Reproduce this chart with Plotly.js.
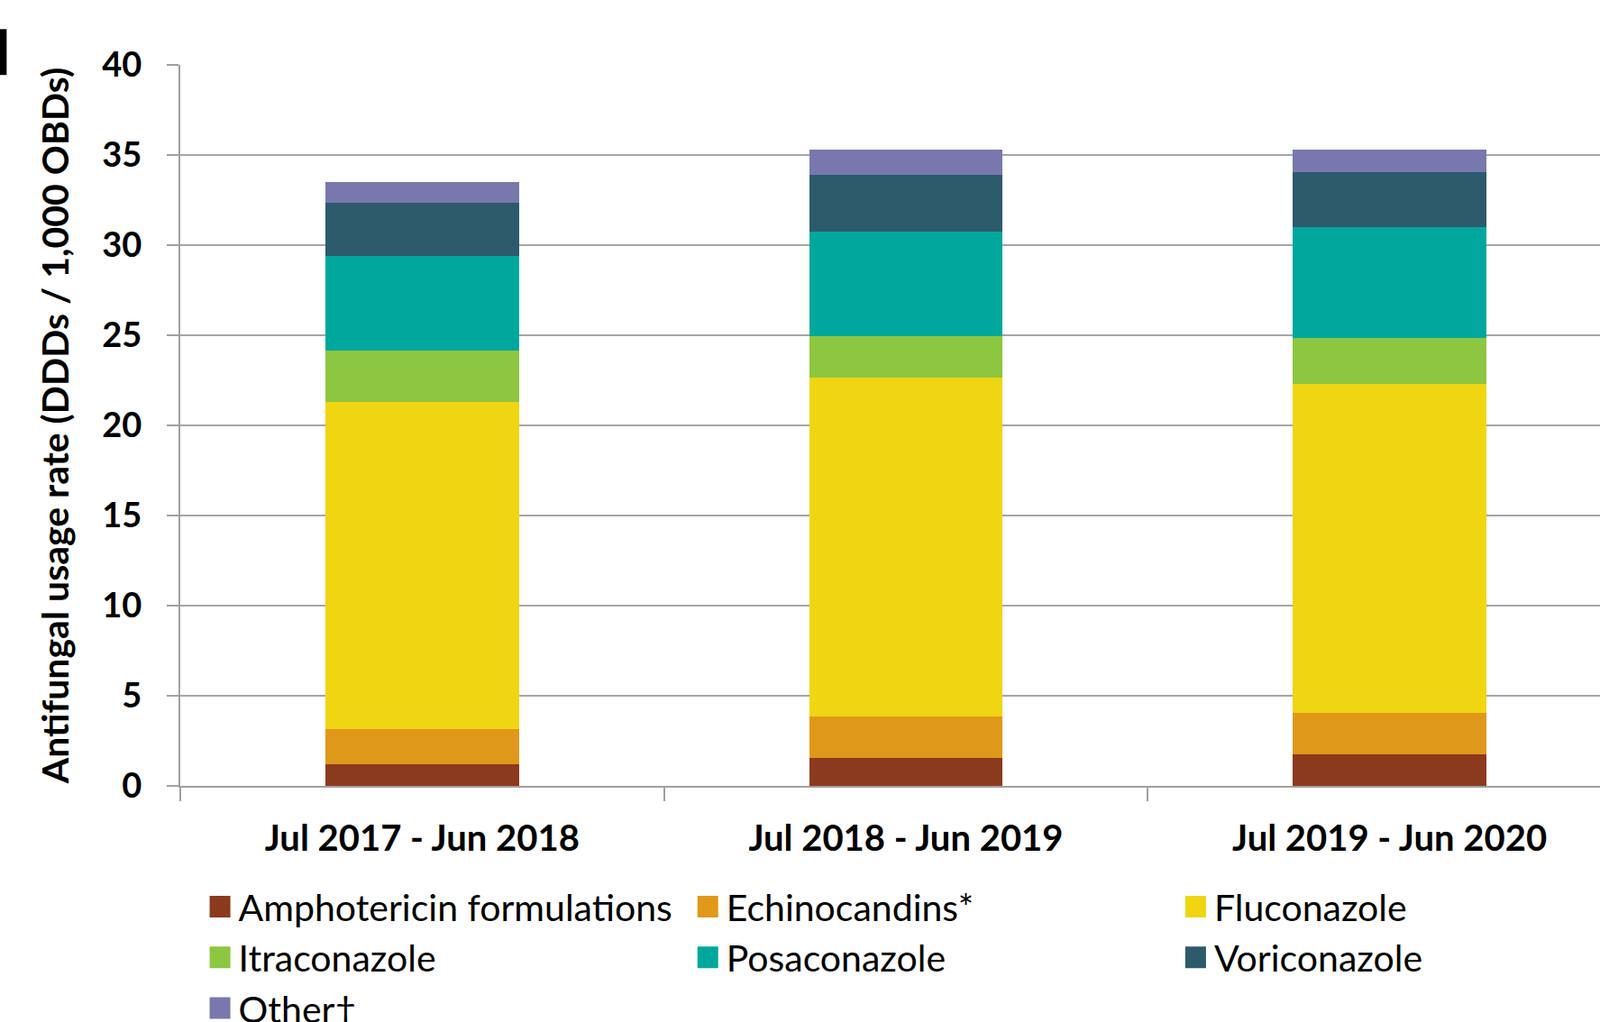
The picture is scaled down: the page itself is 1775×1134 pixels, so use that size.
<!DOCTYPE html>
<html>
<head>
<meta charset="utf-8">
<script src="https://cdn.plot.ly/plotly-3.0.1.min.js"></script>
<style>
  html, body { margin: 0; padding: 0; background: #fff; }
  #chart { width: 1775px; height: 1134px; }
</style>
</head>
<body>
<div id="chart"></div>
<script>
// ---- data ----
const periods = ["Jul 2017 - Jun 2018", "Jul 2018 - Jun 2019", "Jul 2019 - Jun 2020"];
const amphotericin = [1.20, 1.57, 1.73];
const echinocandins = [1.95, 2.30, 2.32];
const fluconazole = [18.15, 18.76, 18.23];
const itraconazole = [2.85, 2.33, 2.57];
const posaconazole = [5.25, 5.79, 6.15];
const voriconazole = [2.95, 3.15, 3.05];
const other = [1.15, 1.40, 1.25];
const seriesNames = ["Amphotericin formulations", "Echinocandins*", "Fluconazole",
                     "Itraconazole", "Posaconazole", "Voriconazole", "Other\u2020"];
const yTitle = "Antifungal usage rate (DDDs / 1,000 OBDs)";

const seriesValues = [amphotericin, echinocandins, fluconazole, itraconazole, posaconazole, voriconazole, other];
const seriesColors = ["#8B3A1E", "#E0981A", "#F0D512", "#8DC641", "#00A79D", "#2D5A6B", "#7878AE"];
const legendFor = ["legend", "legend2", "legend3", "legend", "legend2", "legend3", "legend"];

const traces = seriesValues.map((vals, i) => ({
  type: "bar",
  name: seriesNames[i],
  x: periods,
  y: vals,
  marker: { color: seriesColors[i], line: { width: 0 } },
  legend: legendFor[i],
  hoverinfo: "name+y"
}));

const font = "Lato, 'Open Sans', sans-serif";
const legendBase = {
  orientation: "v",
  traceorder: "normal",
  xanchor: "left",
  yanchor: "top",
  y: -0.126,
  bgcolor: "rgba(0,0,0,0)",
  borderwidth: 0,
  font: { family: font, size: 41, color: "#000" },
  itemclick: false,
  itemdoubleclick: false
};

const layout = {
  width: 1775,
  height: 1134,
  margin: { l: 200, r: 0, t: 72, b: 262, autoexpand: false },
  paper_bgcolor: "#fff",
  plot_bgcolor: "#fff",
  barmode: "stack",
  bargap: 0.6,
  showlegend: true,
  legend: Object.assign({}, legendBase, { x: 0.0156 }),
  legend2: Object.assign({}, legendBase, { x: 0.3592 }),
  legend3: Object.assign({}, legendBase, { x: 0.7028 }),
  xaxis: {
    type: "category",
    range: [-0.5, 2.435],
    showline: true,
    linecolor: "#A0A0A0",
    linewidth: 2,
    ticks: "outside",
    tickson: "boundaries",
    ticklen: 15,
    tickwidth: 1.5,
    tickcolor: "#A0A0A0",
    showgrid: false,
    zeroline: false,
    ticklabelstandoff: 22,
    tickfont: { family: font, size: 40, color: "#000", weight: 700 }
  },
  yaxis: {
    range: [0, 40],
    dtick: 5,
    tick0: 0,
    showline: true,
    linecolor: "#A0A0A0",
    linewidth: 2,
    ticks: "outside",
    ticklen: 13,
    tickwidth: 2,
    tickcolor: "#A0A0A0",
    showgrid: true,
    gridcolor: "#A6A6A6",
    gridwidth: 2,
    zeroline: false,
    ticklabelstandoff: 20,
    tickfont: { family: font, size: 38, color: "#000", weight: 700 },
    title: {
      text: yTitle,
      standoff: 24,
      font: { family: font, size: 41, color: "#000", weight: 700 }
    }
  },
  shapes: [
    { type: "rect", xref: "paper", yref: "paper",
      x0: -0.1273, x1: -0.1223, y0: 0.986, y1: 1.0496,
      fillcolor: "#000", line: { width: 0 } }
  ]
};

function enlargeLegendSymbols() {
  document.querySelectorAll(".legendpoints path").forEach(function (p) {
    p.setAttribute("d", "M11,12H-12V-12H11Z");
  });
}

Plotly.newPlot("chart", traces, layout, { displayModeBar: false }).then(function () {
  enlargeLegendSymbols();
  setTimeout(enlargeLegendSymbols, 50);
  setTimeout(enlargeLegendSymbols, 300);
});
</script>
</body>
</html>
